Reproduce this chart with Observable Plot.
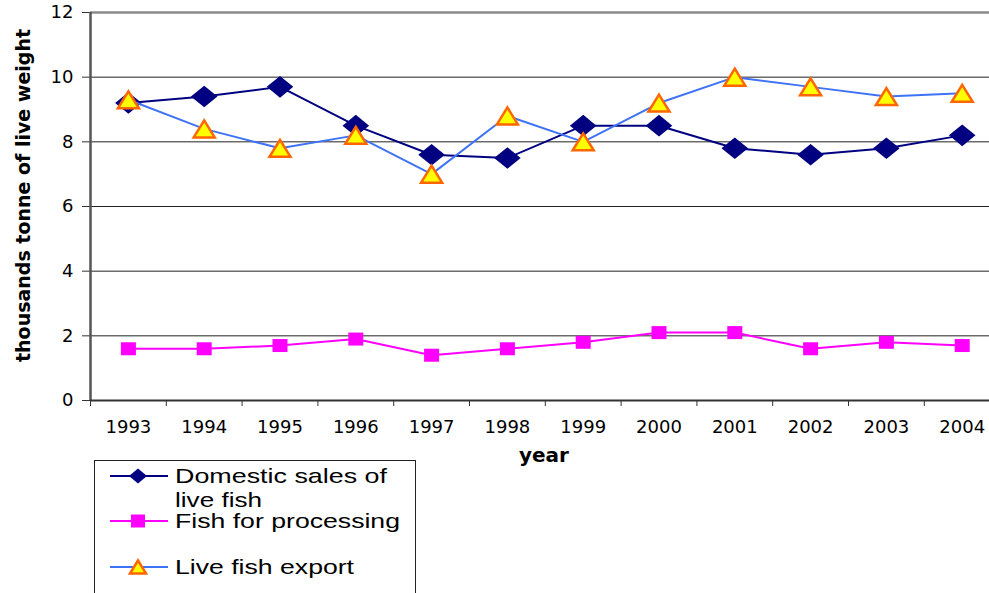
<!DOCTYPE html>
<html>
<head>
<meta charset="utf-8">
<script src="https://cdn.jsdelivr.net/npm/d3@7"></script>
<script src="https://cdn.jsdelivr.net/npm/@observablehq/plot@0.6"></script>
<style>
  html, body { margin: 0; padding: 0; background: #fff; overflow: hidden; }
  #wrap { position: relative; width: 989px; height: 593px; }
  #legend { position: absolute; left: 94px; top: 460px; }
</style>
</head>
<body>
<div id="wrap"></div>
<script>
const years = [1993, 1994, 1995, 1996, 1997, 1998, 1999, 2000, 2001, 2002, 2003, 2004];
const domestic = [9.2, 9.4, 9.7, 8.5, 7.6, 7.5, 8.5, 8.5, 7.8, 7.6, 7.8, 8.2];
const processing = [1.6, 1.6, 1.7, 1.9, 1.4, 1.6, 1.8, 2.1, 2.1, 1.6, 1.8, 1.7];
const exportVals = [9.3, 8.4, 7.8, 8.2, 7.0, 8.8, 8.0, 9.2, 10.0, 9.7, 9.4, 9.5];
const seriesNames = ["Domestic sales of live fish", "Fish for processing", "Live fish export"];
const yTicks = [0, 2, 4, 6, 8, 10, 12];
const gridValues = [2, 4, 6, 8, 10];

const edges = [...years.map(y => y - 0.5), years[years.length - 1] + 0.5];

function diamondSym(hw, hh) {
  return { draw(ctx) { ctx.moveTo(0, -hh); ctx.lineTo(hw, 0); ctx.lineTo(0, hh); ctx.lineTo(-hw, 0); ctx.closePath(); } };
}
function squareSym(hw, hh) {
  return { draw(ctx) { ctx.moveTo(-hw, -hh); ctx.lineTo(hw, -hh); ctx.lineTo(hw, hh); ctx.lineTo(-hw, hh); ctx.closePath(); } };
}
function triangleSym(hw, hh) {
  return { draw(ctx) { ctx.moveTo(0, -hh); ctx.lineTo(hw, hh); ctx.lineTo(-hw, hh); ctx.closePath(); } };
}

const dom = years.map((y, i) => ({year: y, value: domestic[i]}));
const proc = years.map((y, i) => ({year: y, value: processing[i]}));
const exp = years.map((y, i) => ({year: y, value: exportVals[i]}));

const chart = Plot.plot({
  width: 989,
  height: 593,
  marginLeft: 90,
  marginRight: 0,
  marginTop: 12,
  marginBottom: 193,
  style: {fontFamily: "'DejaVu Sans', sans-serif", fontSize: "18px", color: "black", background: "white"},
  x: {domain: [edges[0], edges[edges.length - 1]], range: [90, 999.6]},
  y: {domain: [0, 12]},
  marks: [
    Plot.ruleY(gridValues, {stroke: "#222", strokeWidth: 1}),
    Plot.ruleY([12], {stroke: "#8a8a8a", strokeWidth: 2.5}),
    Plot.axisY({ticks: yTicks, tickSize: 8, tickPadding: 9, label: null, stroke: "#333", fill: "black"}),
    Plot.axisX({ticks: edges, tickSize: 6, tickFormat: () => "", label: null, stroke: "#333"}),
    Plot.axisX({ticks: years, tickSize: 0, tickPadding: 20, tickFormat: d => String(d), label: null, fill: "black"}),
    Plot.ruleX([edges[0]], {stroke: "#555", strokeWidth: 2.5}),
    Plot.ruleY([0], {stroke: "#333", strokeWidth: 2}),
    Plot.line(dom, {x: "year", y: "value", stroke: "#000080", strokeWidth: 2}),
    Plot.dot(dom, {x: "year", y: "value", symbol: diamondSym(13.3, 10.8), fill: "#000080", stroke: "none"}),
    Plot.line(proc, {x: "year", y: "value", stroke: "#FF00FF", strokeWidth: 2}),
    Plot.dot(proc, {x: "year", y: "value", symbol: squareSym(7.5, 6.5), fill: "#FF00FF", stroke: "none"}),
    Plot.line(exp, {x: "year", y: "value", stroke: "#3F73F5", strokeWidth: 2}),
    Plot.dot(exp, {x: "year", y: "value", symbol: triangleSym(10.5, 8.5), fill: "#FFFF00", stroke: "#FF6600", strokeWidth: 2.5}),
    Plot.text(["thousands tonne of live weight"], {frameAnchor: "left", textAnchor: "middle", rotate: -90, dx: -67, dy: -11, fontSize: 19, fontWeight: "bold", fill: "black"}),
    Plot.text(["year"], {frameAnchor: "bottom", dx: 4, dy: 61, fontSize: 20, fontWeight: "bold", fill: "black"})
  ]
});
document.getElementById("wrap").appendChild(chart);

// Legend
const lw = 321, lh = 140;
const leg = d3.select("#wrap").append("svg")
  .attr("id", "legend")
  .attr("width", lw + 2).attr("height", lh)
  .style("font-family", "'Liberation Sans', Arial, sans-serif");
leg.append("rect").attr("x", 0.5).attr("y", 0.5).attr("width", lw).attr("height", lh + 10)
  .attr("fill", "white").attr("stroke", "#222").attr("stroke-width", 1);

const items = [
  {lines: ["Domestic sales of", "live fish"], lens: [212, 87], color: "#000080", sym: diamondSym(9, 7.5), fill: "#000080", stroke: "none", sw: 0, cy: 16},
  {lines: ["Fish for processing"], lens: [225], color: "#FF00FF", sym: squareSym(7, 6.5), fill: "#FF00FF", stroke: "none", sw: 0, cy: 61},
  {lines: ["Live fish export"], lens: [179], color: "#3F73F5", sym: triangleSym(8, 6.5), fill: "#FFFF00", stroke: "#FF6600", sw: 2.5, cy: 107}
];
items.forEach(it => {
  const g = leg.append("g");
  g.append("line").attr("x1", 16).attr("x2", 74).attr("y1", it.cy).attr("y2", it.cy)
    .attr("stroke", it.color).attr("stroke-width", 2);
  g.append("path").attr("d", d3.symbol(it.sym)()).attr("transform", `translate(44,${it.cy})`)
    .attr("fill", it.fill).attr("stroke", it.stroke).attr("stroke-width", it.sw);
  it.lines.forEach((t, j) => {
    g.append("text").attr("x", 81).attr("y", it.cy + 7 + j * 24)
      .attr("font-size", 21).attr("fill", "black")
      .attr("textLength", it.lens[j]).attr("lengthAdjust", "spacingAndGlyphs")
      .text(t);
  });
});
</script>
</body>
</html>
